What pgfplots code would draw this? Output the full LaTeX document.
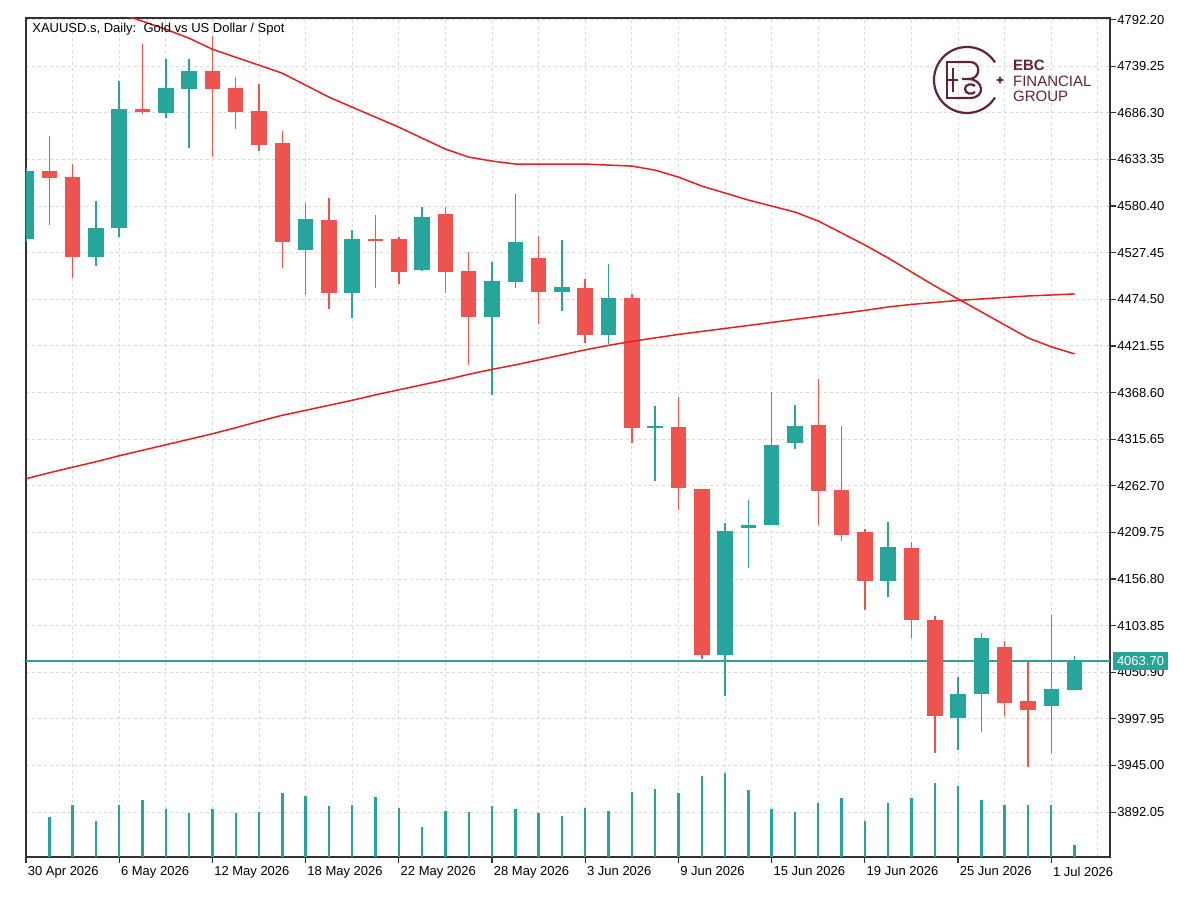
\documentclass[border=0pt]{standalone}
\usepackage{fontspec}
\setmainfont{Liberation Sans}
\usepackage{pgfplots}
\pgfplotsset{compat=1.18}
\usepackage{pgfplotstable}

\definecolor{bullc}{RGB}{38,166,154}
\definecolor{bearc}{RGB}{239,83,80}
\definecolor{mac}{RGB}{232,30,30}
\definecolor{gridc}{RGB}{218,218,218}
\definecolor{logoc}{RGB}{98,36,52}
\definecolor{framec}{RGB}{50,50,50}

\pgfplotstableread{
i O H L C
0 4543.0 4624.0 4540.0 4620.1
3 4522.6 4586.1 4512.3 4555.8
4 4555.8 4723.0 4545.2 4690.1
6 4686.2 4747.5 4680.6 4714.6
7 4713.9 4747.5 4645.9 4734.3
12 4530.5 4584.1 4479.4 4566.0
14 4481.4 4553.2 4453.7 4543.3
17 4507.8 4579.6 4506.7 4567.9
20 4454.8 4516.9 4365.7 4495.3
21 4494.2 4594.4 4487.7 4539.9
23 4482.8 4541.5 4461.3 4488.9
25 4433.7 4515.0 4423.5 4475.7
27 4328.9 4353.5 4268.4 4329.7
30 4070.7 4220.0 4023.8 4211.7
31 4215.5 4246.6 4169.4 4217.4
32 4218.5 4369.7 4218.5 4308.9
33 4310.8 4355.0 4304.4 4330.5
37 4154.7 4221.6 4136.1 4193.2
40 3999.2 4045.3 3963.0 4026.5
41 4025.7 4095.7 3982.9 4089.5
44 4012.4 4116.1 3959.5 4031.4
45 4031.0 4069.9 4031.0 4063.7
}\bull

\pgfplotstableread{
i O H L C
1 4620.1 4659.8 4558.9 4611.8
2 4613.6 4628.4 4499.1 4522.6
5 4690.1 4764.5 4684.4 4687.4
8 4734.3 4773.3 4636.0 4713.9
9 4714.6 4726.7 4667.4 4687.4
10 4688.2 4718.5 4642.8 4649.6
11 4651.9 4665.5 4510.6 4539.9
13 4564.5 4589.1 4463.2 4481.4
15 4543.3 4569.9 4487.7 4540.7
16 4543.3 4545.2 4491.6 4505.9
18 4571.0 4579.6 4481.4 4505.9
19 4506.7 4528.2 4400.0 4454.8
22 4521.8 4546.4 4446.2 4482.8
24 4487.0 4497.3 4424.7 4433.7
26 4475.7 4480.2 4311.2 4328.2
28 4330.0 4363.7 4235.2 4260.2
29 4259.0 4259.3 4066.2 4070.7
34 4332.0 4383.8 4218.5 4256.3
35 4257.9 4330.8 4200.4 4207.2
36 4209.8 4213.1 4121.8 4154.4
38 4191.6 4198.5 4090.0 4110.4
39 4110.8 4115.3 3959.5 4001.1
42 4079.3 4086.2 4000.7 4016.2
43 4018.5 4064.2 3943.2 4007.5
}\bear

\pgfplotstableread{
i MA
4 4799.3
5 4790.3
6 4781.2
7 4771.0
8 4758.5
9 4749.4
10 4740.4
11 4731.3
12 4717.7
13 4704.1
14 4692.7
15 4681.4
16 4670.0
17 4657.5
18 4645.1
19 4636.0
20 4631.5
21 4628.1
22 4628.1
23 4628.1
24 4628.1
25 4626.9
26 4625.8
27 4621.2
28 4613.3
29 4603.1
30 4595.2
31 4587.2
32 4580.4
33 4573.6
34 4563.4
35 4549.8
36 4536.2
37 4521.4
38 4505.5
39 4489.7
40 4474.9
41 4460.2
42 4445.4
43 4430.7
44 4420.5
45 4412.5
}\mafast

\pgfplotstableread{
i MA
0 4270.7
1 4277.5
2 4283.8
3 4290.0
4 4296.8
5 4303.0
6 4309.3
7 4315.5
8 4321.8
9 4328.6
10 4335.9
11 4342.8
12 4348.4
13 4354.1
14 4359.8
15 4366.0
16 4371.7
17 4377.4
18 4383.0
19 4389.3
20 4394.9
21 4400.0
22 4405.7
23 4411.4
24 4417.1
25 4422.2
26 4426.7
27 4430.7
28 4434.6
29 4438.0
30 4441.4
31 4444.8
32 4448.2
33 4451.7
34 4455.1
35 4458.5
36 4461.9
37 4465.8
38 4468.7
39 4470.9
40 4473.2
41 4474.9
42 4476.6
43 4478.3
44 4479.4
45 4480.6
}\maslow

\pgfplotstableread{
i V
1 40000
2 52000
3 36000
4 52000
5 57000
6 48000
7 44000
8 48000
9 44000
10 45000
11 64000
12 61000
13 51000
14 52000
15 60000
16 49000
17 30000
18 46000
19 45000
20 51000
21 48000
22 44000
23 41000
24 49000
25 46000
26 65000
27 68000
28 64000
29 81000
30 84000
31 67000
32 48000
33 45000
34 54000
35 59000
36 36000
37 54000
38 59000
39 74000
40 71000
41 57000
42 52000
43 52000
44 52000
45 12000
}\vol

\newcommand{\tickfont}{\fontsize{6.5}{7.5}\selectfont}

\begin{document}
\begin{tikzpicture}

\begin{axis}[
  name=main,
  at={(0pt,0pt)}, anchor=south west, scale only axis,
  width=542pt, height=419.5pt,
  xmin=0, xmax=46.52, ymin=3841.1, ymax=4794.0,
  axis line style={draw=framec, line width=0.8pt},
  xtick={0,4,...,44},
  xticklabels={30 Apr 2026, 6 May 2026, 12 May 2026, 18 May 2026, 22 May 2026, 28 May 2026, 3 Jun 2026, 9 Jun 2026, 15 Jun 2026, 19 Jun 2026, 25 Jun 2026, 1 Jul 2026},
  minor xtick={2,6,...,46},
  ytick={3892.05,3945.00,3997.95,4050.90,4103.85,4156.80,4209.75,4262.70,4315.65,4368.60,4421.55,4474.50,4527.45,4580.40,4633.35,4686.30,4739.25,4792.20},
  yticklabels={3892.05,3945.00,3997.95,4050.90,4103.85,4156.80,4209.75,4262.70,4315.65,4368.60,4421.55,4474.50,4527.45,4580.40,4633.35,4686.30,4739.25,4792.20},
  xtick pos=bottom, ytick pos=right, yticklabel pos=right,
  tick align=outside, major tick length=2.8pt, minor tick length=0pt,
  tick style={draw=framec, line width=0.6pt},
  grid=both,
  major grid style={draw=gridc, line width=0.5pt, dash pattern=on 1.5pt off 1.5pt},
  minor grid style={draw=gridc, line width=0.5pt, dash pattern=on 1.5pt off 1.5pt},
  ticklabel style={font=\tickfont, text=black},
  xticklabel style={anchor=north west, xshift=-2.6pt, yshift=1.5pt},
  yticklabel style={anchor=west, xshift=-2.6pt},
  extra y ticks={4063.70},
  extra y tick labels={4063.70},
  extra y tick style={grid=none, major tick length=0pt,
     yticklabel style={fill=bullc, text=white, inner xsep=1.8pt, inner ysep=2.2pt, xshift=4.1pt}},
  clip=true,
]
% current price line
\addplot[bullc, line width=0.6pt, forget plot] coordinates {(0,4063.7) (46.52,4063.7)};

% wicks
\addplot[draw=none, mark=none, forget plot,
  error bars/.cd, y dir=both, y explicit, error mark=none,
  error bar style={line width=0.75pt, draw=bullc}]
  table[x=i, y expr={(\thisrow{H}+\thisrow{L})/2}, y error expr={(\thisrow{H}-\thisrow{L})/2}] {\bull};
\addplot[draw=none, mark=none, forget plot,
  error bars/.cd, y dir=both, y explicit, error mark=none,
  error bar style={line width=0.75pt, draw=bearc}]
  table[x=i, y expr={(\thisrow{H}+\thisrow{L})/2}, y error expr={(\thisrow{H}-\thisrow{L})/2}] {\bear};
% bodies
\addplot[draw=none, mark=none, forget plot,
  error bars/.cd, y dir=both, y explicit, error mark=none,
  error bar style={line width=7.75pt, draw=bullc}]
  table[x=i, y expr={(\thisrow{O}+\thisrow{C})/2}, y error expr={max(abs(\thisrow{C}-\thisrow{O})/2,1.2)}] {\bull};
\addplot[draw=none, mark=none, forget plot,
  error bars/.cd, y dir=both, y explicit, error mark=none,
  error bar style={line width=7.75pt, draw=bearc}]
  table[x=i, y expr={(\thisrow{O}+\thisrow{C})/2}, y error expr={max(abs(\thisrow{C}-\thisrow{O})/2,1.2)}] {\bear};

% moving averages
\addplot[mac, line width=0.75pt, mark=none] table[x=i, y=MA] {\mafast};
\addplot[mac, line width=0.75pt, mark=none] table[x=i, y=MA] {\maslow};

\node[anchor=west, font=\tickfont, inner sep=0pt] at (rel axis cs:0.0055,0.987) {XAUUSD.s, Daily:\ \ Gold vs US Dollar / Spot};
\end{axis}

% volume
\begin{axis}[
  at={(0pt,0pt)}, anchor=south west, scale only axis,
  width=542pt, height=419.5pt,
  xmin=0, xmax=46.52, ymin=0, ymax=839000,
  axis lines=none, clip=true,
]
\addplot[ycomb, bullc, line width=1.2pt, mark=none] table[x=i, y=V] {\vol};
\end{axis}

% logo (pixel coordinates of the 1200x903 page, y downwards)
\begin{scope}[shift={(main.south west)}]
\begin{scope}[shift={(-13pt,428.5pt)}, x=0.5pt, y=-0.5pt, draw=logoc, line width=1.1pt]
  \draw (967,80) ++(32:33) arc[start angle=32, end angle=328, radius=33];
  \fill[logoc] (1000,75.5) -- (1001.2,78.8) -- (1004.5,80) -- (1001.2,81.2) -- (1000,84.5) -- (998.8,81.2) -- (995.5,80) -- (998.8,78.8) -- cycle;
  \draw (962,62) -- (947,62) -- (947,98) -- (962,98);
  \draw (947,80) -- (958,80);
  \draw (953,68) -- (953,92);
  \draw (955,62) -- (970,62) .. controls (981,62) and (981,78) .. (970,79) -- (962,79);
  \draw (968,79) .. controls (984,79) and (986,98) .. (970,98) -- (955,98);
  \draw (975,86) .. controls (972,83) and (965,84) .. (965,89) .. controls (965,94) and (972,95) .. (975,92);
  \node[anchor=west, text=logoc, font=\fontsize{7.5}{8}\selectfont\bfseries, inner sep=0pt] at (1012,65) {EBC};
  \node[anchor=west, text=logoc, font=\fontsize{7.5}{8}\selectfont, inner sep=0pt] at (1012,81) {FINANCIAL};
  \node[anchor=west, text=logoc, font=\fontsize{7.5}{8}\selectfont, inner sep=0pt] at (1012,96.5) {GROUP};
\end{scope}
\end{scope}

\pgfresetboundingbox
\path[use as bounding box] ([xshift=-13pt,yshift=-23pt]main.south west) rectangle ([xshift=587pt,yshift=428.5pt]main.south west);
\end{tikzpicture}
\end{document}
